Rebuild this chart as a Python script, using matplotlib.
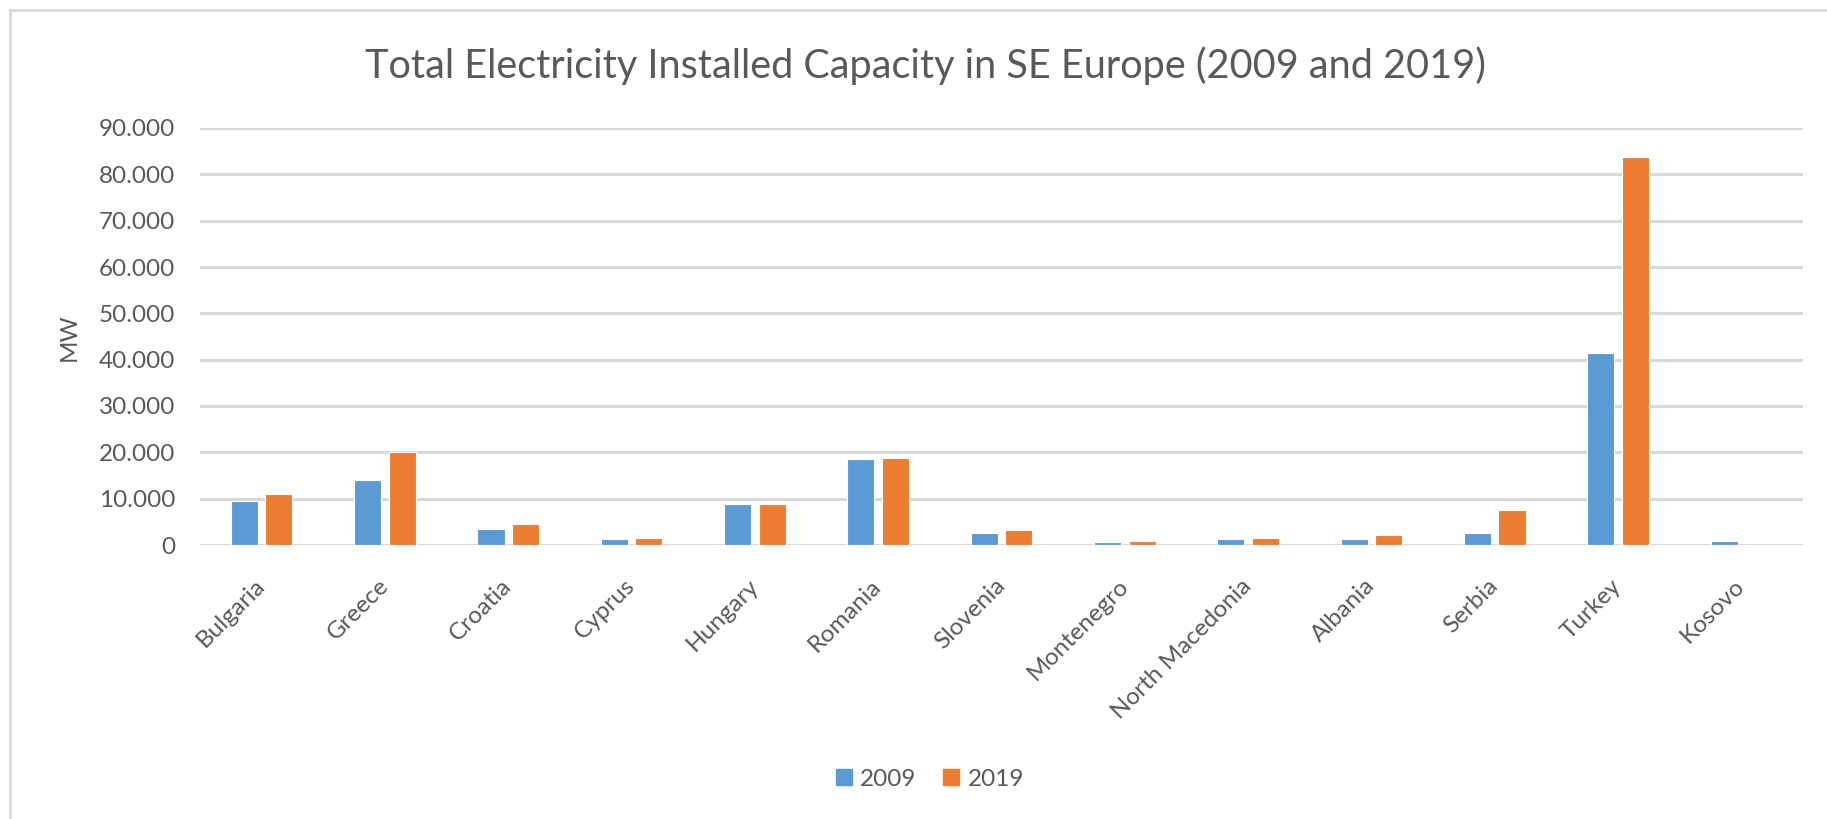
import matplotlib.pyplot as plt
import numpy as np
from matplotlib.lines import Line2D
from matplotlib.ticker import FuncFormatter

plt.rcParams['font.family'] = ['Lato', 'DejaVu Sans']

countries = ['Bulgaria', 'Greece', 'Croatia', 'Cyprus', 'Hungary', 'Romania', 'Slovenia',
             'Montenegro', 'North Macedonia', 'Albania', 'Serbia', 'Turkey', 'Kosovo']
cap_2009 = [9450, 14050, 3550, 1250, 8750, 18650, 2550, 600, 1250, 1250, 2550, 41400, 800]
cap_2019 = [11050, 20000, 4600, 1550, 8750, 18700, 3300, 900, 1550, 2200, 7500, 83800, 0]
years = ['2009', '2019']
colors = ['#5B9BD5', '#ED7D31']
grey = '#595959'

W, H = 1827, 819
fig = plt.figure(figsize=(W / 100, H / 100), dpi=100)
ax = fig.add_axes([200 / W, 1 - 545 / H, 1603 / W, 417 / H])

x = np.arange(len(countries))
bw = 0.22
off = 0.14
ax.bar(x - off, cap_2009, bw, color=colors[0], edgecolor='white', linewidth=0.8, zorder=3)
ax.bar(x + off, cap_2019, bw, color=colors[1], edgecolor='white', linewidth=0.8, zorder=3)

ax.set_xlim(-0.5, len(countries) - 0.5)
ax.set_ylim(0, 90000)
ax.set_yticks(np.arange(0, 90001, 10000))
ax.yaxis.set_major_formatter(FuncFormatter(lambda v, p: f'{int(v):,}'.replace(',', '.')))
ax.grid(axis='y', color='#D9D9D9', linewidth=2.2, zorder=0)
ax.set_axisbelow(True)
for s in ax.spines.values():
    s.set_visible(False)
ax.tick_params(axis='both', length=0, colors=grey, labelsize=17.5)
ax.tick_params(axis='y', pad=18)
ax.set_xticks(x)
ax.set_xticklabels(countries, rotation=45, ha='right', va='center', rotation_mode='anchor')
ax.tick_params(axis='x', pad=27)

fig.text(69 / W, 1 - 337 / H, 'MW', rotation=90, ha='center', va='center', color=grey, fontsize=17.5)
fig.text(925 / W, 1 - 66 / H, 'Total Electricity Installed Capacity in SE Europe (2009 and 2019)',
         ha='center', va='center', color=grey, fontsize=28.5)

handles = [plt.Rectangle((0, 0), 1, 1, color=c) for c in colors]
fig.legend(handles, years, loc='center', bbox_to_anchor=(930 / W, 1 - 779 / H), ncol=2, frameon=False,
           fontsize=17.5, labelcolor=grey, handlelength=0.65, handleheight=0.65, handletextpad=0.35,
           columnspacing=1.1)

# chart border (left and top visible)
fig.add_artist(Line2D([9.5 / W, 9.5 / W], [0, 1 - 10 / H], color='#D9D9D9', linewidth=2))
fig.add_artist(Line2D([9.5 / W, 1], [1 - 10 / H, 1 - 10 / H], color='#D9D9D9', linewidth=2))

fig.savefig('out.png', dpi=100)
